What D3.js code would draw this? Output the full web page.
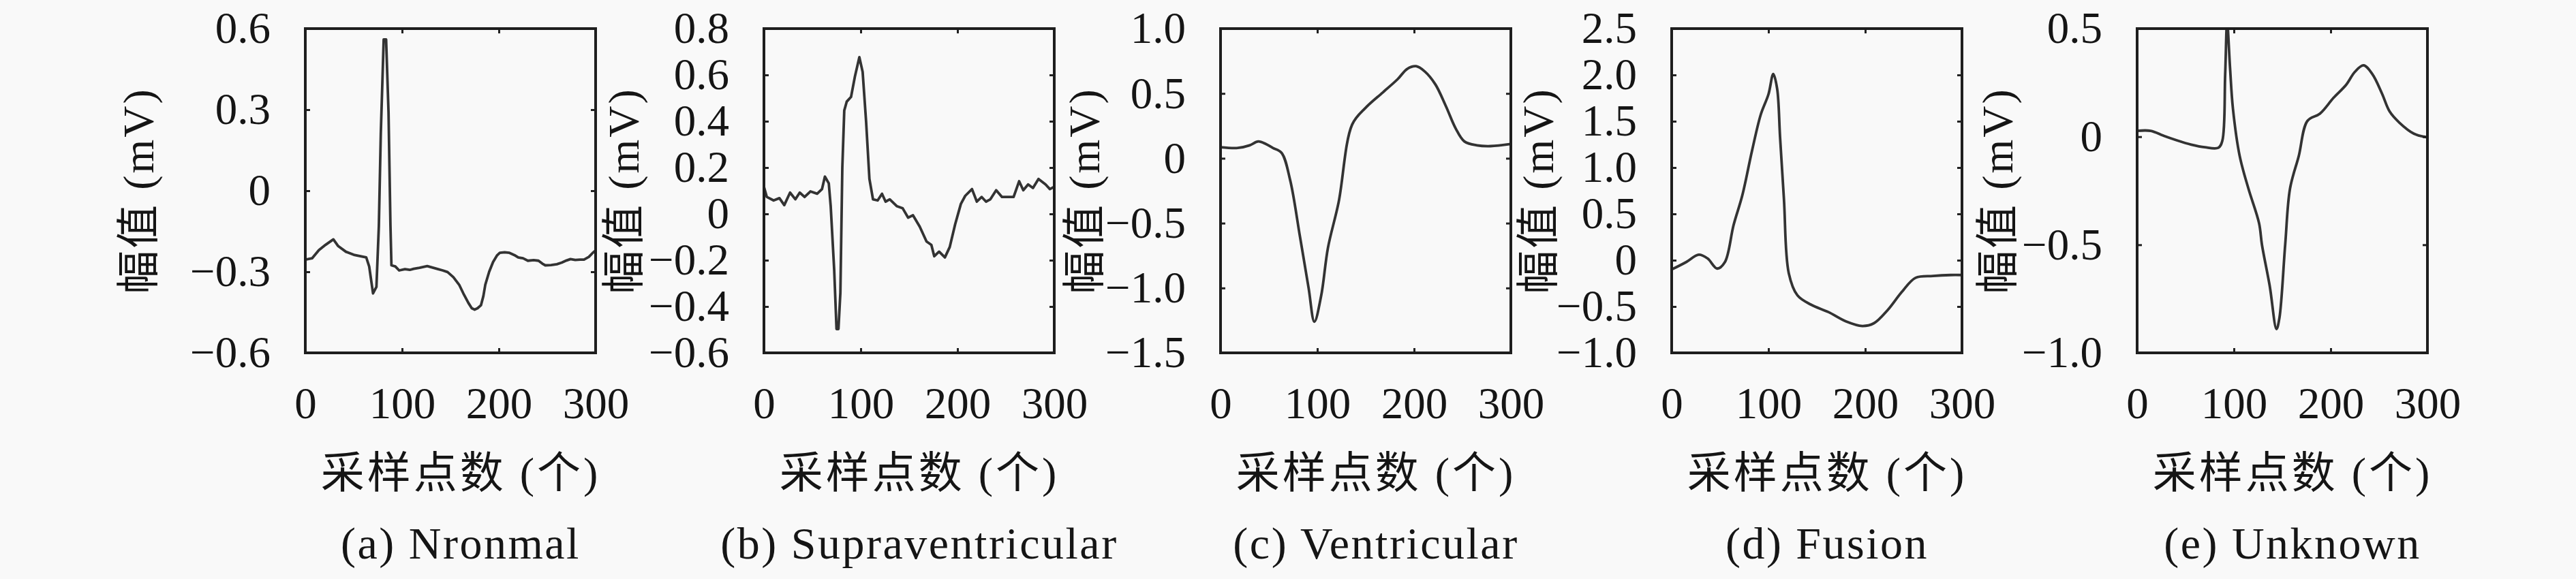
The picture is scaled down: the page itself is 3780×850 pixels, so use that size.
<!DOCTYPE html>
<html>
<head>
<meta charset="utf-8">
<script src="https://cdn.jsdelivr.net/npm/d3@7"></script>
<style>
  body { margin: 0; background: #f9f9f9; }
  text { font-family: "Liberation Serif", "Noto Sans CJK SC", serif; fill: #151515; }
</style>
</head>
<body>
<svg></svg>
<script>
// Panel captions and axis titles
const captions = ["(a) Nronmal", "(b) Supraventricular", "(c) Ventricular", "(d) Fusion", "(e) Unknown"];
const xTitle = "采样点数 (个)";
const yTitle = "幅值 (mV)";

// Tick values
const xTicks = [0, 100, 200, 300];
const yTicksA = [-0.6, -0.3, 0, 0.3, 0.6];
const yTicksB = [-0.6, -0.4, -0.2, 0, 0.2, 0.4, 0.6, 0.8];
const yTicksC = [-1.5, -1.0, -0.5, 0, 0.5, 1.0];
const yTicksD = [-1.0, -0.5, 0, 0.5, 1.0, 1.5, 2.0, 2.5];
const yTicksE = [-1.0, -0.5, 0, 0.5];

// (a) Normal beat
const normalX = [0, 7, 14, 21, 29, 34, 42, 51, 63, 66, 70, 73.5, 76, 78, 81, 83.5, 86, 88, 89, 93, 97, 103, 108, 112, 118, 126, 131, 136, 142, 147, 153, 159, 164, 168.5, 172, 175, 178, 181.5, 184, 186, 190, 194, 198, 201, 206, 211, 216, 220, 225, 230, 236, 241, 245, 248, 254, 260, 265, 270, 274, 279, 284, 288, 293, 297, 300];
const normalY = [-0.255, -0.25, -0.22, -0.2, -0.18, -0.205, -0.226, -0.238, -0.247, -0.28, -0.38, -0.356, -0.13, 0.21, 0.56, 0.56, 0.29, -0.13, -0.276, -0.28, -0.295, -0.29, -0.293, -0.289, -0.285, -0.279, -0.284, -0.289, -0.295, -0.301, -0.32, -0.348, -0.385, -0.415, -0.435, -0.44, -0.435, -0.424, -0.39, -0.348, -0.3, -0.264, -0.24, -0.23, -0.228, -0.23, -0.238, -0.247, -0.25, -0.259, -0.257, -0.259, -0.27, -0.276, -0.275, -0.272, -0.266, -0.258, -0.253, -0.256, -0.255, -0.255, -0.245, -0.23, -0.221];

// (b) Supraventricular beat
const supraX = [0, 3, 10, 16, 21, 27, 32.5, 37, 42, 48, 55, 60, 63, 67, 69, 72.6, 75, 77, 79, 81, 83, 85.6, 90, 94, 98.6, 102, 105.6, 109, 112.7, 117.5, 122, 125.7, 130, 137.5, 143.4, 149, 154, 161, 168, 173, 176, 181, 187, 192, 197.6, 203.5, 208, 215, 220, 225, 229.5, 234, 240, 246, 258, 263.7, 268, 273, 278, 283.7, 291, 295.5, 300];
const supraY = [0.117, 0.073, 0.058, 0.068, 0.038, 0.092, 0.063, 0.092, 0.073, 0.097, 0.087, 0.107, 0.161, 0.132, 0.033, -0.242, -0.497, -0.497, -0.34, 0.2, 0.446, 0.485, 0.505, 0.593, 0.677, 0.613, 0.397, 0.151, 0.063, 0.058, 0.087, 0.053, 0.063, 0.033, 0.024, -0.016, -0.006, -0.055, -0.119, -0.134, -0.183, -0.163, -0.188, -0.143, -0.045, 0.043, 0.078, 0.107, 0.053, 0.073, 0.053, 0.063, 0.102, 0.073, 0.073, 0.141, 0.102, 0.127, 0.112, 0.151, 0.127, 0.107, 0.117];

// (c) Ventricular beat
const ventX = [0, 18, 30, 39, 47, 54, 63, 72, 82, 91, 97, 104, 111, 122, 136, 150, 168, 183, 193, 202, 211, 222, 233, 243, 252, 265, 279, 300];
const ventY = [0.086, 0.08, 0.1, 0.13, 0.11, 0.08, 0.043, -0.17, -0.6, -1.0, -1.26, -1.06, -0.69, -0.34, 0.26, 0.39, 0.51, 0.61, 0.69, 0.71, 0.67, 0.57, 0.4, 0.23, 0.13, 0.1, 0.094, 0.11];

// (d) Fusion beat
const fusionX = [0, 15, 28, 37, 47, 55, 64, 73, 83, 92, 100, 105, 109, 112, 116, 121, 130, 144, 162, 180, 197, 209, 223, 238, 252, 270, 288, 300];
const fusionY = [-0.1, -0.02, 0.06, 0.02, -0.09, -0.02, 0.38, 0.7, 1.18, 1.57, 1.79, 2.01, 1.85, 1.33, 0.66, -0.14, -0.38, -0.48, -0.56, -0.66, -0.71, -0.68, -0.54, -0.34, -0.19, -0.17, -0.16, -0.16];

// (e) Unknown beat
const unknownX = [0, 14, 27, 41, 56, 70, 84, 88, 91, 93, 96, 99, 106, 115, 126, 129, 137, 144, 147, 153, 158, 167, 176, 189, 203, 216, 225, 234, 243, 253, 261, 271, 286, 300];
const unknownY = [0.027, 0.027, 0.005, -0.017, -0.037, -0.049, -0.051, -0.02, 0.29, 0.53, 0.32, 0.13, -0.09, -0.24, -0.4, -0.5, -0.69, -0.89, -0.84, -0.5, -0.24, -0.09, 0.073, 0.107, 0.18, 0.24, 0.3, 0.33, 0.29, 0.2, 0.116, 0.065, 0.014, -0.003];

const seriesX = [normalX, supraX, ventX, fusionX, unknownX];
const seriesY = [normalY, supraY, ventY, fusionY, unknownY];
const yTicksAll = [yTicksA, yTicksB, yTicksC, yTicksD, yTicksE];

// Layout
const W = 3780, H = 850;
const frameLeft = [448, 1121, 1791, 2453, 3136];
const ylabelOffset = [-247, -208, -202, -198, -207];
const fw = 426, fh = 476, frameTop = 42;
const tickFont = 65, titleFont = 64, capFont = 66;

const svg = d3.select("svg").attr("width", W).attr("height", H);
svg.append("rect").attr("width", W).attr("height", H).attr("fill", "#f9f9f9");

const fmt = (d) => (d === 0 ? "0" : d3.format(".1f")(d));

captions.forEach((cap, i) => {
  const ticks = yTicksAll[i];
  const x = d3.scaleLinear().domain([0, 300]).range([0, fw]);
  const y = d3.scaleLinear().domain(d3.extent(ticks)).range([fh, 0]);

  const g = svg.append("g").attr("transform", `translate(${frameLeft[i]},${frameTop})`);

  g.append("clipPath").attr("id", "clip" + i)
    .append("rect").attr("width", fw).attr("height", fh);

  // Curve: noisy traces stay linear, smooth ones get a centripetal spline
  const curve = i < 2 ? d3.curveLinear : d3.curveCatmullRom.alpha(0.5);
  const pts = seriesX[i].map((v, k) => [v, seriesY[i][k]]);
  g.append("path")
    .datum(pts)
    .attr("clip-path", `url(#clip${i})`)
    .attr("fill", "none")
    .attr("stroke", "#333")
    .attr("stroke-width", 3.8)
    .attr("stroke-linejoin", "round")
    .attr("d", d3.line().curve(curve).x((d) => x(d[0])).y((d) => y(d[1])));

  // Axes with inward ticks
  g.append("g").call(d3.axisLeft(y).tickValues(ticks).tickSize(-7).tickPadding(51).tickFormat(fmt));
  g.append("g").attr("transform", `translate(${fw},0)`)
    .call(d3.axisRight(y).tickValues(ticks).tickSize(-7).tickFormat(""));
  g.append("g").attr("transform", `translate(0,${fh})`)
    .call(d3.axisBottom(x).tickValues(xTicks).tickSize(-7).tickPadding(50));
  g.append("g").call(d3.axisTop(x).tickValues(xTicks).tickSize(-7).tickFormat(""));

  g.selectAll(".domain").remove();
  g.selectAll(".tick line").attr("stroke", "#222").attr("stroke-width", 3);
  g.selectAll(".tick text").attr("font-size", tickFont).attr("font-family", "Liberation Serif").attr("fill", "#111");

  // Frame
  g.append("rect")
    .attr("width", fw).attr("height", fh)
    .attr("fill", "none").attr("stroke", "#1e1e1e").attr("stroke-width", 4);

  const cx = fw / 2 + 15;

  // X title
  g.append("text")
    .attr("x", cx).attr("y", 716 - frameTop)
    .attr("text-anchor", "middle")
    .attr("font-size", titleFont)
    .attr("letter-spacing", 4)
    .text(xTitle);

  // Caption
  g.append("text")
    .attr("x", cx).attr("y", 820 - frameTop)
    .attr("text-anchor", "middle")
    .attr("font-size", capFont)
    .attr("letter-spacing", 2.5)
    .text(cap);

  // Y title
  g.append("text")
    .attr("transform", `translate(${ylabelOffset[i] + 24},${fh / 2}) rotate(-90)`)
    .attr("text-anchor", "middle")
    .attr("font-size", titleFont)
    .attr("letter-spacing", 3)
    .text(yTitle);
});
</script>
</body>
</html>
